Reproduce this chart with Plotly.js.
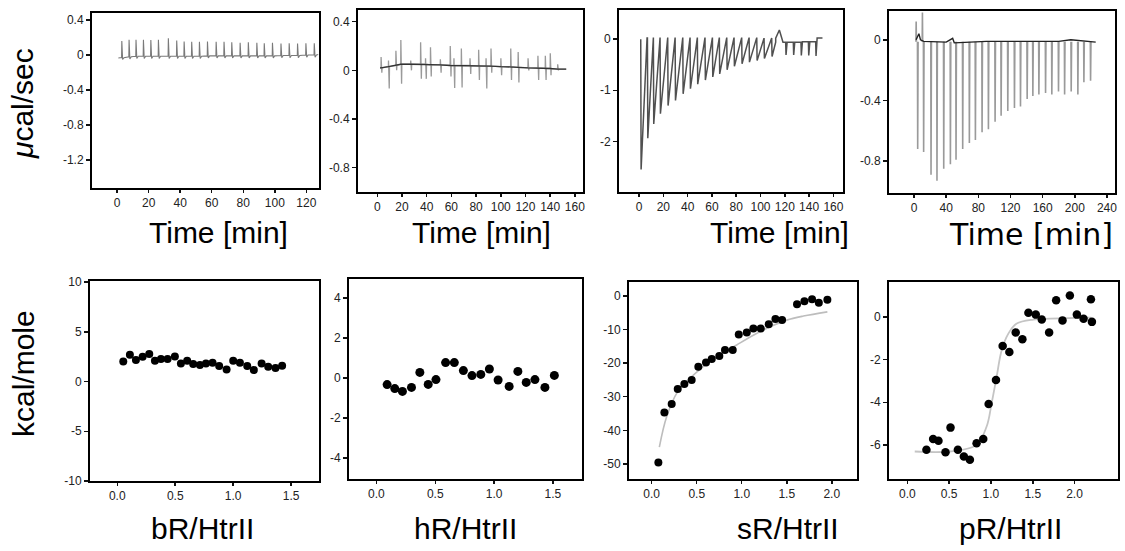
<!DOCTYPE html>
<html><head><meta charset="utf-8">
<script src="https://cdn.plot.ly/plotly-3.0.1.min.js"></script>
<style>html,body{margin:0;padding:0;background:#fff;}#chart{width:1125px;height:551px;}</style>
</head><body><div id="chart"></div>
<script>
// ===================== DATA =====================
// Panel 1: bR raw ITC (µcal/sec vs min)
const bRInjTime = [3.0, 7.6, 12.0, 16.7, 21.4, 26.2, 32.5, 37.8, 42.5, 47.3, 52.2, 57.3, 62.8, 67.8, 72.7, 78.0, 83.2, 88.6, 93.3, 98.5, 103.9, 109.1, 114.4, 119.7, 125.0];
const bRPeak = [0.16, 0.175, 0.175, 0.175, 0.17, 0.175, 0.19, 0.165, 0.155, 0.15, 0.15, 0.155, 0.15, 0.15, 0.145, 0.14, 0.145, 0.14, 0.135, 0.14, 0.13, 0.135, 0.13, 0.135, 0.135];
const bRBase = [-0.03, -0.02, -0.015, -0.015, -0.015, -0.015, -0.015, -0.015, -0.015, -0.015, -0.015, -0.01, -0.01, -0.01, -0.01, -0.01, -0.01, -0.01, -0.01, -0.01, -0.005, -0.005, -0.005, 0.0, 0.0];
const bRDip = [-0.05, -0.045, -0.04, -0.04, -0.04, -0.04, -0.04, -0.04, -0.04, -0.04, -0.04, -0.035, -0.035, -0.035, -0.035, -0.035, -0.035, -0.035, -0.035, -0.035, -0.03, -0.03, -0.03, -0.025, -0.025];
const bRRawStart = [0.8, -0.035];
const bRRawEnd = [127.5, 0.005];

// Panel 2: hR raw ITC
const hRInjTime = [3, 9, 15, 19, 27, 35, 39, 43, 51, 59, 62, 68, 75, 82, 88, 92, 100, 108, 114, 122, 130, 136, 140, 146];
const hRUp = [0.11, 0.08, 0.16, 0.25, 0.08, 0.23, 0.10, 0.19, 0.09, 0.20, 0.10, 0.18, 0.10, 0.17, 0.10, 0.18, 0.10, 0.18, 0.15, 0.10, 0.12, 0.12, 0.14, 0.05];
const hRDown = [-0.02, -0.15, 0.00, -0.11, 0.00, -0.07, -0.07, -0.05, -0.02, -0.05, -0.145, -0.14, -0.03, -0.08, -0.15, -0.02, -0.04, -0.08, -0.10, 0.00, -0.08, -0.08, -0.04, 0.0];
const hRBase = [0.02, 0.03, 0.04, 0.05, 0.05, 0.05, 0.05, 0.045, 0.045, 0.04, 0.04, 0.04, 0.04, 0.035, 0.035, 0.035, 0.03, 0.03, 0.025, 0.02, 0.02, 0.015, 0.015, 0.01];
const hRRawStart = [2.2, 0.02];
const hRRawEnd = [153, 0.01];

// Panel 3: sR raw ITC
const sRInjTime = [1.4, 6.9, 11.8, 17.3, 23.6, 29.7, 36.0, 42.0, 48.0, 54.3, 60.4, 66.1, 72.2, 78.2, 84.5, 90.6, 96.9, 102.9, 109.2, 120.7, 127.0, 133.3, 139.4, 145.4];
const sRMin = [-2.55, -1.94, -1.66, -1.46, -1.30, -1.20, -1.07, -0.97, -0.88, -0.80, -0.74, -0.68, -0.60, -0.53, -0.48, -0.45, -0.42, -0.38, -0.34, -0.31, -0.31, -0.32, -0.32, -0.33];
const sRBase = [0.0, 0.02, 0.03, 0.03, 0.03, 0.03, 0.03, 0.03, 0.03, 0.03, 0.03, 0.03, 0.03, 0.03, 0.03, 0.03, 0.03, 0.02, 0.02, -0.06, -0.06, -0.06, -0.05, -0.05];
const sRRecovery = [5.2, 4.6, 5.2, 6.0, 5.8, 6.0, 5.7, 5.7, 6.0, 5.8, 5.4, 5.8, 5.7, 6.0, 5.8, 6.0, 5.7, 6.0, 3.3, 1.2, 1.2, 1.2, 1.2, 1.2];
const sRBumpT = [112.5, 115.5, 118.5];
const sRBumpV = [0.02, 0.18, -0.06];
const sRRawEnd = [151, 0.02];

// Panel 4: pR raw ITC
const pRInjTime = [4.2, 11.6, 20.8, 28.2, 36.6, 44.9, 51.9, 60.2, 68.5, 76.0, 84.3, 92.2, 100.5, 108.0, 116.3, 124.6, 132.1, 140.4, 147.5, 155.0, 163.3, 171.1, 179.4, 187.0, 195.2, 203.5, 211.0, 219.3];
const pRMin = [-0.72, -0.74, -0.89, -0.93, -0.85, -0.82, -0.79, -0.72, -0.68, -0.66, -0.61, -0.59, -0.54, -0.50, -0.47, -0.45, -0.44, -0.39, -0.37, -0.36, -0.35, -0.36, -0.34, -0.36, -0.34, -0.36, -0.28, -0.27];
const pRUpT = [2.6, 10.4];
const pRUpV = [0.12, 0.18];
const pRBaseT = [2.5, 6, 8, 12, 40, 48, 50, 90, 180, 195, 226];
const pRBaseV = [0.0, 0.04, 0.0, -0.01, -0.015, 0.01, -0.02, -0.01, -0.01, 0.0, -0.015];
const pRRawBase = -0.012;

// Panel 5: bR/HtrII titration (kcal/mole)
const bRRatio = [0.052, 0.109, 0.161, 0.219, 0.276, 0.325, 0.377, 0.434, 0.497, 0.549, 0.603, 0.655, 0.713, 0.765, 0.822, 0.879, 0.943, 1.0, 1.058, 1.121, 1.178, 1.245, 1.302, 1.365, 1.422];
const bRHeat = [2.02, 2.69, 2.15, 2.49, 2.76, 2.09, 2.26, 2.26, 2.52, 1.81, 2.09, 1.75, 1.65, 1.81, 1.88, 1.55, 1.21, 2.09, 1.88, 1.55, 1.15, 1.81, 1.48, 1.35, 1.58];

// Panel 6: hR/HtrII
const hRRatio = [0.091, 0.156, 0.221, 0.298, 0.369, 0.44, 0.506, 0.588, 0.662, 0.739, 0.812, 0.887, 0.96, 1.034, 1.128, 1.202, 1.273, 1.347, 1.432, 1.512];
const hRHeat = [-0.33, -0.53, -0.67, -0.47, 0.28, -0.32, -0.08, 0.77, 0.77, 0.37, 0.12, 0.18, 0.45, -0.1, -0.42, 0.33, -0.22, -0.08, -0.47, 0.13];

// Panel 7: sR/HtrII
const sRRatio = [0.074, 0.141, 0.222, 0.289, 0.363, 0.444, 0.518, 0.603, 0.667, 0.751, 0.814, 0.9, 0.967, 1.056, 1.129, 1.211, 1.3, 1.374, 1.448, 1.614, 1.696, 1.781, 1.856, 1.951];
const sRHeat = [-49.6, -34.7, -32.2, -27.7, -26.2, -25.0, -21.1, -19.8, -18.8, -17.9, -16.1, -16.1, -11.5, -10.9, -9.7, -9.7, -8.4, -6.9, -7.2, -2.5, -1.6, -1.0, -2.0, -1.1];
const sRFitX = [0.085, 0.167, 0.289, 0.444, 0.667, 0.944, 1.129, 1.314, 1.5, 1.685, 1.951];
const sRFitY = [-45.0, -35.9, -28.5, -24.0, -19.1, -14.6, -11.7, -9.2, -7.2, -6.0, -4.75];

// Panel 8: pR/HtrII
const pRRatio = [0.228, 0.308, 0.372, 0.456, 0.516, 0.604, 0.676, 0.748, 0.828, 0.908, 0.972, 1.06, 1.14, 1.22, 1.296, 1.376, 1.448, 1.536, 1.608, 1.696, 1.78, 1.856, 1.944, 2.028, 2.108, 2.196, 2.208];
const pRHeat = [-6.23, -5.72, -5.81, -6.34, -5.19, -6.23, -6.54, -6.70, -5.92, -5.72, -4.08, -2.96, -1.36, -1.64, -0.73, -1.04, 0.2, 0.11, -0.12, -0.73, 0.78, -0.16, 1.01, 0.11, -0.08, 0.83, -0.23];
const pRFitX = [0.088, 0.508, 0.828, 0.948, 1.008, 1.068, 1.128, 1.208, 1.308, 1.508, 1.708, 2.108, 2.2];
const pRFitY = [-6.31, -6.31, -6.0, -5.14, -4.05, -2.80, -1.56, -0.78, -0.31, -0.12, -0.08, -0.03, -0.03];

// Tick values / labels
const p1YTicks = [0.4, 0, -0.4, -0.8, -1.2], p1YLabels = ['0.4', '0', '-0.4', '-0.8', '-1.2'];
const p1XTicks = [0, 20, 40, 60, 80, 100, 120], p1XLabels = ['0', '20', '40', '60', '80', '100', '120'];
const p2YTicks = [0.4, 0, -0.4, -0.8], p2YLabels = ['0.4', '0', '-0.4', '-0.8'];
const p2XTicks = [0, 20, 40, 60, 80, 100, 120, 140, 160], p2XLabels = ['0', '20', '40', '60', '80', '100', '120', '140', '160'];
const p3YTicks = [0, -1, -2, -3], p3YLabels = ['0', '-1', '-2', '-3'];
const p3XTicks = p2XTicks, p3XLabels = p2XLabels;
const p4YTicks = [0, -0.4, -0.8], p4YLabels = ['0', '-0.4', '-0.8'];
const p4XTicks = [0, 40, 80, 120, 160, 200, 240], p4XLabels = ['0', '40', '80', '120', '160', '200', '240'];
const p5YTicks = [10, 5, 0, -5, -10], p5YLabels = ['10', '5', '0', '-5', '-10'];
const p6YTicks = [4, 2, 0, -2, -4], p6YLabels = ['4', '2', '0', '-2', '-4'];
const p7YTicks = [0, -10, -20, -30, -40, -50], p7YLabels = ['0', '-10', '-20', '-30', '-40', '-50'];
const p8YTicks = [0, -2, -4, -6], p8YLabels = ['0', '-2', '-4', '-6'];
const ratioTicks15 = [0, 0.5, 1.0, 1.5], ratioLabels15 = ['0.0', '0.5', '1.0', '1.5'];
const ratioTicks20 = [0, 0.5, 1.0, 1.5, 2.0], ratioLabels20 = ['0.0', '0.5', '1.0', '1.5', '2.0'];

const topXTitle = 'Time [min]';
const bottomXTitles = ['bR/HtrII', 'hR/HtrII', 'sR/HtrII', 'pR/HtrII'];

// ===================== BUILD =====================
const W = 1125, H = 551;
const FONT = 'Liberation Sans, Arial, sans-serif';
const px = v => v / W, py = v => 1 - v / H;

// Panel 1 trace
const p1x = [bRRawStart[0]], p1y = [bRRawStart[1]];
bRInjTime.forEach((t, i) => {
  p1x.push(t - 0.15, t, t + 0.5, t + 1.4);
  p1y.push(bRBase[i], bRPeak[i], bRDip[i], bRBase[i]);
});
p1x.push(bRRawEnd[0]); p1y.push(bRRawEnd[1]);

// Panel 2 traces
const p2x = [hRRawStart[0]], p2y = [hRRawStart[1]];
hRInjTime.forEach((t, i) => {
  p2x.push(t, t + 0.1, t + 0.7, t + 0.9);
  p2y.push(hRBase[i], hRUp[i], hRDown[i], hRBase[i]);
});
p2x.push(hRRawEnd[0]); p2y.push(hRRawEnd[1]);
const p2bx = [hRRawStart[0]].concat(hRInjTime, [hRRawEnd[0]]);
const p2by = [hRRawStart[1]].concat(hRBase, [hRRawEnd[1]]);

// Panel 3 trace
const p3x = [], p3y = [];
sRInjTime.forEach((t, i) => {
  p3x.push(t, t + 0.3, t + sRRecovery[i]);
  const nextBase = i + 1 < sRBase.length ? sRBase[i + 1] : sRRawEnd[1];
  p3y.push(sRBase[i], sRMin[i], nextBase);
  if (i === 18) { sRBumpT.forEach((bt, k) => { p3x.push(bt); p3y.push(sRBumpV[k]); }); }
});
p3x.push(sRRawEnd[0]); p3y.push(sRRawEnd[1]);

// Panel 4 traces
const p4x = [], p4y = [];
pRInjTime.forEach((t, i) => {
  p4x.push(t, t + 0.3, t + 0.8, null);
  p4y.push(pRRawBase, pRMin[i], pRRawBase, null);
});
pRUpT.forEach((t, i) => {
  p4x.push(t - 0.3, t, t + 0.3, null);
  p4y.push(pRRawBase, pRUpV[i], pRRawBase, null);
});

const traces = [
  {x: p1x, y: p1y, xaxis: 'x', yaxis: 'y', mode: 'lines', line: {color: '#7a7a7a', width: 1.1}},
  {x: p2x, y: p2y, xaxis: 'x2', yaxis: 'y2', mode: 'lines', line: {color: '#9a9a9a', width: 1.3}},
  {x: p2bx, y: p2by, xaxis: 'x2', yaxis: 'y2', mode: 'lines', line: {color: '#333', width: 1.3}},
  {x: p3x, y: p3y, xaxis: 'x3', yaxis: 'y3', mode: 'lines', line: {color: '#505050', width: 1.5}},
  {x: p4x, y: p4y, xaxis: 'x4', yaxis: 'y4', mode: 'lines', line: {color: '#9a9a9a', width: 1.6}},
  {x: pRBaseT, y: pRBaseV, xaxis: 'x4', yaxis: 'y4', mode: 'lines', line: {color: '#222', width: 1.4}},
  {x: bRRatio, y: bRHeat, xaxis: 'x5', yaxis: 'y5', mode: 'markers', marker: {color: '#000', size: 8}},
  {x: hRRatio, y: hRHeat, xaxis: 'x6', yaxis: 'y6', mode: 'markers', marker: {color: '#000', size: 9}},
  {x: sRFitX, y: sRFitY, xaxis: 'x7', yaxis: 'y7', mode: 'lines', line: {color: '#bdbdbd', width: 1.6, shape: 'spline'}},
  {x: sRRatio, y: sRHeat, xaxis: 'x7', yaxis: 'y7', mode: 'markers', marker: {color: '#000', size: 8}},
  {x: pRFitX, y: pRFitY, xaxis: 'x8', yaxis: 'y8', mode: 'lines', line: {color: '#c4c4c4', width: 1.8, shape: 'spline'}},
  {x: pRRatio, y: pRHeat, xaxis: 'x8', yaxis: 'y8', mode: 'markers', marker: {color: '#000', size: 8.5}}
];

function axis(dom, range, tv, tt, anchor, isX) {
  return {
    domain: dom, range: range, tickvals: tv, ticktext: tt, anchor: anchor,
    showline: true, mirror: true, linecolor: '#000', linewidth: 2,
    ticks: 'outside', ticklen: isX ? 3 : 4, tickwidth: 1.5, tickcolor: '#111',
    tickangle: 0, showgrid: false, zeroline: false, fixedrange: true,
    tickfont: {family: FONT, size: 12, color: '#222'}
  };
}

// panel frames (px): [x0, x1, y0, y1]
const frames = [
  [92, 319, 13, 188], [358, 583, 10, 192], [619, 843, 10, 192], [889, 1115, 11, 193],
  [90, 319, 281, 481], [349, 582, 279, 479], [629, 857, 282, 479], [889, 1118, 282, 479]
];
const xr = [[-15.9, 128], [-15.6, 166.6], [-16.5, 167.9], [-31.2, 250], [-0.235, 1.74], [-0.233, 1.747], [-0.252, 2.28], [-0.22, 2.52]];
const yr = [[-1.52, 0.48], [-1.0, 0.496], [-2.99, 0.57], [-1.01, 0.19], [-10, 10.1], [-5.05, 4.95], [-54.5, 4.15], [-7.6, 1.64]];
const xt = [[p1XTicks, p1XLabels], [p2XTicks, p2XLabels], [p3XTicks, p3XLabels], [p4XTicks, p4XLabels], [ratioTicks15, ratioLabels15], [ratioTicks15, ratioLabels15], [ratioTicks20, ratioLabels20], [ratioTicks20, ratioLabels20]];
const yt = [[p1YTicks, p1YLabels], [p2YTicks, p2YLabels], [p3YTicks, p3YLabels], [p4YTicks, p4YLabels], [p5YTicks, p5YLabels], [p6YTicks, p6YLabels], [p7YTicks, p7YLabels], [p8YTicks, p8YLabels]];

const layout = {
  width: W, height: H, margin: {l: 0, r: 0, t: 0, b: 0},
  paper_bgcolor: '#fff', plot_bgcolor: '#fff', showlegend: false, hovermode: false,
  font: {family: FONT, color: '#000'},
  annotations: []
};
frames.forEach((f, i) => {
  const n = i === 0 ? '' : String(i + 1);
  layout['xaxis' + n] = axis([px(f[0]), px(f[1])], xr[i], xt[i][0], xt[i][1], 'y' + n, true);
  layout['yaxis' + n] = axis([py(f[3]), py(f[2])], yr[i], yt[i][0], yt[i][1], 'x' + n, false);
});

function ann(text, x, y, size, angle, fam) {
  return {text: text, x: px(x), y: py(y), xref: 'paper', yref: 'paper', showarrow: false,
    xanchor: 'center', yanchor: 'middle', textangle: angle || 0,
    font: {family: fam || FONT, size: size, color: '#000'}};
}
layout.annotations.push(ann('<i>μ</i>cal/sec', 23, 104, 30, -90));
layout.annotations.push(ann('kcal/mole', 23, 374, 30, -90));
layout.annotations.push(ann(topXTitle, 218, 232, 30));
layout.annotations.push(ann(topXTitle, 481, 232, 30));
layout.annotations.push(ann(topXTitle, 779, 232, 30));
layout.annotations.push(ann(topXTitle, 1031, 234, 30, 0, 'DejaVu Sans, sans-serif'));
const bx = [202.5, 465, 787.5, 1010];
bottomXTitles.forEach((t, i) => layout.annotations.push(ann(t, bx[i], 528, 30)));

Plotly.newPlot('chart', traces, layout, {staticPlot: true, displayModeBar: false});
</script></body></html>
